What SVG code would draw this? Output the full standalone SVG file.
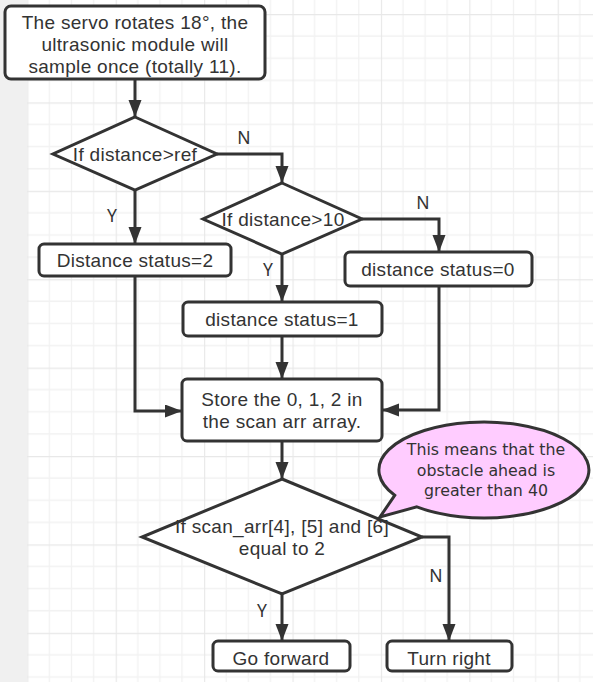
<svg xmlns="http://www.w3.org/2000/svg" width="593" height="682" viewBox="0 0 593 682">
<defs>
<style>
.box{fill:#fff;stroke:#333;stroke-width:3}
.t{font-family:"Liberation Sans",Arial,sans-serif;font-size:19px;letter-spacing:0.3px;fill:#333;text-anchor:middle}
.lbl{font-family:"Noto Sans","DejaVu Sans",sans-serif;font-size:17.5px;fill:#333;text-anchor:middle}
.c{fill:none;stroke:#333;stroke-width:3;marker-end:url(#ah)}
.note{font-family:"DejaVu Sans",sans-serif;font-size:15.8px;fill:#333;text-anchor:middle}
</style>
<marker id="ah" markerUnits="userSpaceOnUse" markerWidth="18" markerHeight="14" refX="17" refY="6.5" orient="auto">
<path d="M0,0 L17,6.5 L0,13 z" fill="#333"/>
</marker>
<pattern id="grid" patternUnits="userSpaceOnUse" x="27.3" y="14" width="88.4" height="88.4">
<path d="M22.1,0V88.4M44.2,0V88.4M66.3,0V88.4M0,22.1H88.4M0,44.2H88.4M0,66.3H88.4" stroke="#f2f2f2" stroke-width="1.3" fill="none"/>
<path d="M0.5,0V88.4M0,0.5H88.4" stroke="#e8e8e8" stroke-width="1.3" fill="none"/>
</pattern>
</defs>
<rect x="0" y="0" width="593" height="682" fill="#fff"/>
<rect x="27" y="0" width="566" height="682" fill="url(#grid)"/>
<rect x="0" y="0" width="27" height="682" fill="#f0f0f0"/>

<g id="connectors">
<path class="c" d="M135,79V117"/>
<path class="c" d="M217,154H282V183"/>
<path class="c" d="M135,190V244"/>
<path class="c" d="M362,219H439V252"/>
<path class="c" d="M282,254V302"/>
<path class="c" d="M135,276V411H182"/>
<path class="c" d="M282,336V379"/>
<path class="c" d="M439,286V410H382"/>
<path class="c" d="M282,441V479"/>
<path class="c" d="M422,537H449V641"/>
<path class="c" d="M282,594V641"/>
<text class="lbl" x="244" y="144">N</text>
<text class="lbl" x="112" y="222">Y</text>
<text class="lbl" x="423" y="209">N</text>
<text class="lbl" x="268" y="276">Y</text>
<text class="lbl" x="436" y="582">N</text>
<text class="lbl" x="262" y="617">Y</text>
</g>

<g id="start">
<rect class="box" x="5" y="6" width="260" height="73" rx="6"/>
<text class="t" x="135" y="29">The servo rotates 18°, the<tspan x="135" dy="22">ultrasonic module will</tspan><tspan x="135" dy="22">sample once (totally 11).</tspan></text>
</g>

<g id="dec1">
<polygon class="box" points="135,117 217,154 135,190 53,154"/>
<text class="t" x="135" y="161">If distance&gt;ref</text>
</g>

<g id="dec2">
<polygon class="box" points="282,183 362,219 282,254 203,219"/>
<text class="t" x="283" y="226">If distance&gt;10</text>
</g>

<g id="status2">
<rect class="box" x="39" y="244" width="192" height="32" rx="5"/>
<text class="t" x="135" y="267">Distance status=2</text>
</g>

<g id="status0">
<rect class="box" x="345" y="252" width="187" height="34" rx="5"/>
<text class="t" x="438" y="276">distance status=0</text>
</g>

<g id="status1">
<rect class="box" x="183" y="302" width="199" height="34" rx="5"/>
<text class="t" x="282" y="326">distance status=1</text>
</g>

<g id="store">
<rect class="box" x="182" y="379" width="200" height="62" rx="5"/>
<text class="t" x="282" y="406">Store the 0, 1, 2 in<tspan x="282" dy="22">the scan arr array.</tspan></text>
</g>

<g id="dec3">
<polygon class="box" points="282,479 422,537 282,594 142,537"/>
<text class="t" x="282" y="533">If scan_arr[4], [5] and [6]<tspan x="282" dy="22">equal to 2</tspan></text>
</g>

<g id="forward">
<rect class="box" x="213" y="641" width="137" height="30" rx="5"/>
<text class="t" x="281" y="665">Go forward</text>
</g>

<g id="right">
<rect class="box" x="387" y="641" width="125" height="30" rx="5"/>
<text class="t" x="449" y="665">Turn right</text>
</g>

<g id="note">
<path d="M394.7,495.3 L380,517 L416.8,506.9 A105,48 0 1 0 394.7,495.3 Z" fill="#ffccff" stroke="#333" stroke-width="3" stroke-linejoin="miter"/>
<text class="note" x="486" y="455">This means that the<tspan x="486" dy="21">obstacle ahead is</tspan><tspan x="486" dy="20">greater than 40</tspan></text>
</g>
</svg>
